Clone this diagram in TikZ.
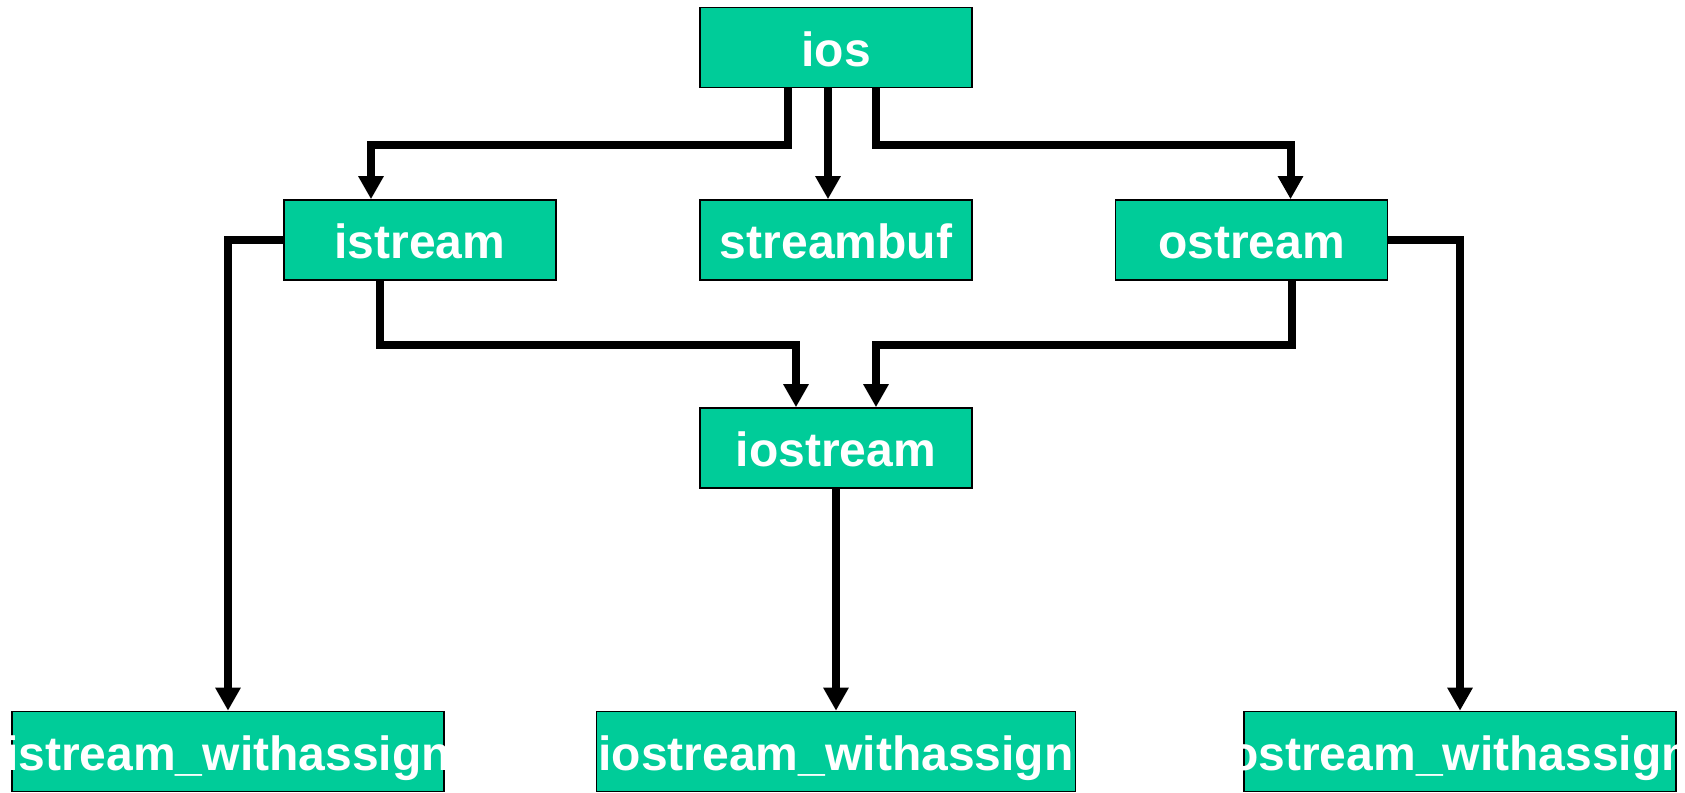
\documentclass[tikz,border=0pt]{standalone}
\usepackage{fontspec}
\setmainfont{Liberation Sans}
\usetikzlibrary{arrows.meta}

\begin{document}
\begin{tikzpicture}[
            x=0.5pt, y=-0.5pt,
            cls/.style={rectangle, draw=black, line width=0.8pt, fill=clsgreen,
                text=white, font=\bfseries\fontsize{24}{28}\selectfont,
                inner sep=0pt, text height=18.8pt, text depth=0pt,
                minimum width=136pt, minimum height=40pt},
            wide/.style={cls, minimum width=216pt},
            arr/.style={line width=4pt, -{Triangle[length=11.5pt, width=12pt]}},
        ]
        \definecolor{clsgreen}{RGB}{0,204,153}
        \useasboundingbox (0,0) rectangle (1685,792);

        % Classes
        \node[cls] (ios) at (836,47.5) {\makebox[0pt]{ios}};
        \node[cls] (istream) at (420,240) {\makebox[0pt]{istream}};
        \node[cls] (streambuf) at (836,240) {\makebox[0pt]{streambuf}};
        \node[cls] (ostream) at (1251.5,240) {\makebox[0pt]{ostream}};
        \node[cls] (iostream) at (836,448) {\makebox[0pt]{iostream}};

        % withassign classes
        \node[wide] (istream_wa) at (228,751.5) {\makebox[0pt]{istream\_withassign}};
        \node[wide, minimum width=239.5pt] (iostream_wa) at (836,751.5) {\makebox[0pt]{iostream\_withassign}};
        \node[wide] (ostream_wa) at (1460,751.5) {\makebox[0pt]{ostream\_withassign}};

        % ios to its subclasses
        \draw[arr] ([xshift=-24pt]ios.south) -- ++(0,56.5) -| ([xshift=-24.5pt]istream.north);
        \draw[arr] ([xshift=-4pt]ios.south) -- ([xshift=-4pt]streambuf.north);
        \draw[arr] ([xshift=20pt]ios.south) -- ++(0,56.5) -| ([xshift=19.5pt]ostream.north);

        % istream and ostream to iostream
        \draw[arr] ([xshift=-20pt]istream.south) -- ++(0,64) -| ([xshift=-20pt]iostream.north);
        \draw[arr] ([xshift=20pt]ostream.south) -- ++(0,64) -| ([xshift=20pt]iostream.north);

        % withassign
        \draw[arr] (istream.west) -| (istream_wa.north);
        \draw[arr] (iostream.south) -- (iostream_wa.north);
        \draw[arr] (ostream.east) -| (ostream_wa.north);

    \end{tikzpicture}
\end{document}
